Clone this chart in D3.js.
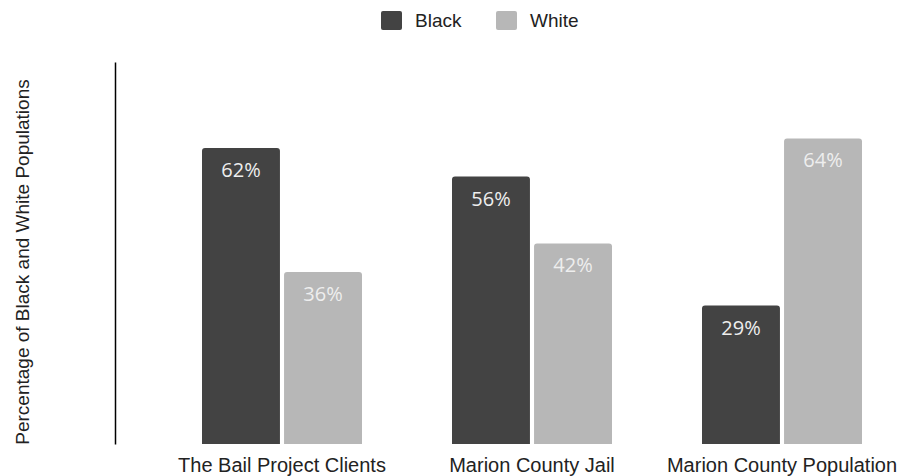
<!DOCTYPE html>
<html><head><meta charset="utf-8">
<script src="https://cdn.jsdelivr.net/npm/d3@7"></script>
<style>body{margin:0;background:#fff}svg{display:block}</style>
</head><body>
<svg id="chart" width="898" height="476"></svg>
<script>
const categories = ["The Bail Project Clients", "Marion County Jail", "Marion County Population"];
const seriesNames = ["Black", "White"];
const blackValues = [62, 56, 29];
const whiteValues = [36, 42, 64];
const colors = ["#434343", "#b7b7b7"];

const svg = d3.select("#chart");
const y = d3.scaleLinear().domain([0, 80]).range([444, 62]);
const x0 = d3.scaleBand().domain(categories).range([157, 907]).paddingInner(0.36).paddingOuter(0.18);
const x1 = d3.scaleBand().domain(seriesNames).range([0, x0.bandwidth()]).paddingInner(0.05);
const color = d3.scaleOrdinal().domain(seriesNames).range(colors);

const data = categories.map((c, i) => ({cat: c, vals: [
  {s: "Black", v: blackValues[i]}, {s: "White", v: whiteValues[i]}]}));

const g = svg.append("g").selectAll("g").data(data).join("g")
  .attr("transform", d => `translate(${x0(d.cat)},0)`);

function topRounded(x, yTop, w, h, r) {
  return `M${x},${yTop + h}V${yTop + r}Q${x},${yTop} ${x + r},${yTop}H${x + w - r}Q${x + w},${yTop} ${x + w},${yTop + r}V${yTop + h}Z`;
}
g.selectAll("path").data(d => d.vals).join("path")
  .attr("d", d => topRounded(x1(d.s), y(d.v), x1.bandwidth(), y(0) - y(d.v), 3))
  .attr("fill", d => color(d.s));

g.selectAll("text").data(d => d.vals).join("text")
  .attr("x", d => x1(d.s) + x1.bandwidth() / 2)
  .attr("y", d => y(d.v) + 29)
  .attr("text-anchor", "middle")
  .attr("font-family", "'Open Sans', sans-serif")
  .attr("font-size", 20)
  .attr("fill", "#eeeeee")
  .text(d => d.v + "%");

// y axis line (no ticks)
const yAxis = svg.append("g").attr("transform", "translate(115,0)")
  .call(d3.axisLeft(y).tickValues([]).tickSizeOuter(0));
yAxis.select(".domain").attr("stroke", "#000").attr("stroke-width", 1.5);

// x axis labels
const xAxis = svg.append("g").attr("transform", "translate(0,444)")
  .call(d3.axisBottom(x0).tickSize(0).tickPadding(14));
xAxis.select(".domain").remove();
xAxis.selectAll("text").attr("font-family", "'Liberation Sans', Arial, sans-serif")
  .attr("font-size", 20).attr("fill", "#222");

// y title
svg.append("text")
  .attr("transform", "translate(29,262) rotate(-90)")
  .attr("text-anchor", "middle")
  .attr("font-family", "'Liberation Sans', Arial, sans-serif")
  .attr("font-size", 19).attr("fill", "#222")
  .text("Percentage of Black and White Populations");

// legend
const legendX = [381, 496];
const lg = svg.append("g").selectAll("g").data(seriesNames).join("g")
  .attr("transform", (d, i) => `translate(${legendX[i]},11)`);
lg.append("rect").attr("width", 21).attr("height", 19).attr("rx", 2).attr("fill", d => color(d));
lg.append("text").attr("x", 34).attr("y", 16)
  .attr("font-family", "'Liberation Sans', Arial, sans-serif")
  .attr("font-size", 19).attr("fill", "#222").text(d => d);
</script>
</body></html>
